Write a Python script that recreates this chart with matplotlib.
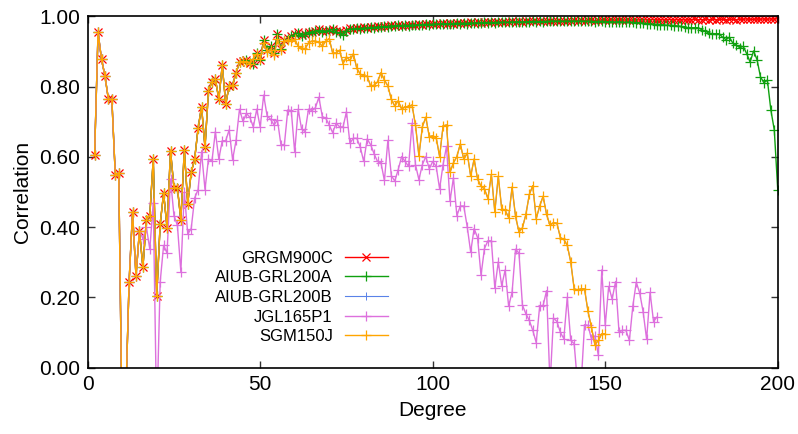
import matplotlib
matplotlib.use("Agg")
import matplotlib.pyplot as plt
import numpy as np

plt.rcParams['font.family'] = ['Liberation Sans', 'DejaVu Sans']

# ---------------- data (degree-wise correlation) ----------------
deg_grgm = list(range(2, 201))
grgm900c = [
    0.606, 0.955, 0.878, 0.831, 0.764, 0.764, 0.548, 0.555, -0.20, -0.10,
    0.244, 0.444, 0.260, 0.390, 0.285, 0.420, 0.433, 0.595, 0.203, 0.408,
    0.497, 0.398, 0.618, 0.512, 0.512, 0.420, 0.620, 0.467, 0.556, 0.594,
    0.682, 0.743, 0.627, 0.788, 0.814, 0.823, 0.764, 0.861, 0.751, 0.802,
    0.804, 0.840, 0.869, 0.872, 0.875, 0.868, 0.866, 0.896, 0.875, 0.934,
    0.904, 0.915, 0.896, 0.951, 0.906, 0.932, 0.938, 0.945, 0.950, 0.955,
    0.946, 0.951, 0.957, 0.955, 0.960, 0.963, 0.958, 0.960, 0.962, 0.965,
    0.958, 0.960, 0.955, 0.962, 0.967, 0.965, 0.968, 0.966, 0.970, 0.967,
    0.971, 0.969, 0.972, 0.970, 0.974, 0.972, 0.975, 0.973, 0.976, 0.974,
    0.977, 0.975, 0.977, 0.976, 0.978, 0.977, 0.979, 0.978, 0.979, 0.980,
    0.979, 0.981, 0.980, 0.981, 0.980, 0.982, 0.981, 0.982, 0.981, 0.983,
    0.982, 0.983, 0.982, 0.984, 0.983, 0.984, 0.983, 0.985, 0.984, 0.985,
    0.984, 0.986, 0.985, 0.986, 0.985, 0.986, 0.986, 0.987, 0.986, 0.987,
    0.986, 0.987, 0.987, 0.988, 0.987, 0.988, 0.987, 0.988, 0.988, 0.989,
    0.988, 0.989, 0.988, 0.989, 0.989, 0.988, 0.989, 0.990, 0.989, 0.989,
    0.990, 0.989, 0.990, 0.989, 0.990, 0.990, 0.989, 0.990, 0.990, 0.991,
    0.990, 0.990, 0.991, 0.990, 0.991, 0.990, 0.991, 0.991, 0.990, 0.991,
    0.991, 0.990, 0.991, 0.991, 0.992, 0.991, 0.991, 0.992, 0.991, 0.992,
    0.991, 0.992, 0.992, 0.991, 0.992, 0.992, 0.991, 0.992, 0.992, 0.993,
    0.992, 0.992, 0.993, 0.992, 0.993, 0.992, 0.993, 0.993, 0.993,
]

deg_aiub = list(range(2, 201))
aiub_grl200a = [
    0.606, 0.955, 0.878, 0.831, 0.764, 0.764, 0.548, 0.555, -0.20, -0.10,
    0.244, 0.444, 0.260, 0.390, 0.285, 0.420, 0.433, 0.595, 0.203, 0.408,
    0.497, 0.398, 0.618, 0.512, 0.512, 0.420, 0.620, 0.467, 0.556, 0.594,
    0.682, 0.743, 0.627, 0.788, 0.814, 0.823, 0.764, 0.861, 0.751, 0.802,
    0.804, 0.840, 0.869, 0.872, 0.875, 0.868, 0.866, 0.896, 0.875, 0.934,
    0.904, 0.915, 0.896, 0.951, 0.906, 0.930, 0.936, 0.944, 0.948, 0.953,
    0.945, 0.950, 0.955, 0.953, 0.958, 0.961, 0.956, 0.958, 0.960, 0.963,
    0.956, 0.952, 0.946, 0.960, 0.965, 0.963, 0.967, 0.964, 0.968, 0.966,
    0.970, 0.967, 0.971, 0.969, 0.972, 0.971, 0.974, 0.972, 0.975, 0.973,
    0.976, 0.974, 0.976, 0.975, 0.977, 0.976, 0.978, 0.977, 0.978, 0.979,
    0.978, 0.980, 0.979, 0.980, 0.979, 0.981, 0.980, 0.981, 0.980, 0.982,
    0.981, 0.982, 0.981, 0.983, 0.982, 0.983, 0.982, 0.984, 0.983, 0.984,
    0.983, 0.985, 0.984, 0.985, 0.984, 0.985, 0.985, 0.986, 0.985, 0.986,
    0.985, 0.986, 0.986, 0.987, 0.986, 0.987, 0.986, 0.987, 0.986, 0.987,
    0.986, 0.987, 0.986, 0.986, 0.986, 0.985, 0.986, 0.986, 0.985, 0.985,
    0.985, 0.984, 0.985, 0.984, 0.983, 0.984, 0.983, 0.982, 0.982, 0.981,
    0.980, 0.979, 0.978, 0.977, 0.977, 0.976, 0.975, 0.975, 0.974, 0.973,
    0.972, 0.970, 0.968, 0.968, 0.968, 0.968, 0.962, 0.958, 0.953, 0.951,
    0.951, 0.951, 0.941, 0.934, 0.941, 0.924, 0.918, 0.911, 0.915, 0.894,
    0.870, 0.902, 0.877, 0.828, 0.811, 0.819, 0.734, 0.677, 0.507,
]

deg_sgm = list(range(2, 151))
sgm150j = [
    0.606, 0.955, 0.878, 0.831, 0.764, 0.764, 0.548, 0.555, -0.20, -0.10,
    0.244, 0.444, 0.260, 0.390, 0.285, 0.420, 0.433, 0.595, 0.203, 0.408,
    0.497, 0.398, 0.618, 0.512, 0.512, 0.420, 0.620, 0.467, 0.556, 0.594,
    0.682, 0.743, 0.627, 0.788, 0.814, 0.823, 0.764, 0.861, 0.751, 0.802,
    0.804, 0.840, 0.869, 0.872, 0.870, 0.866, 0.880, 0.894, 0.880, 0.925,
    0.900, 0.905, 0.889, 0.935, 0.905, 0.930, 0.934, 0.930, 0.935, 0.915,
    0.910, 0.908, 0.925, 0.930, 0.930, 0.926, 0.915, 0.930, 0.937, 0.896,
    0.896, 0.904, 0.866, 0.885, 0.875, 0.894, 0.852, 0.836, 0.830, 0.830,
    0.802, 0.804, 0.814, 0.840, 0.819, 0.802, 0.764, 0.745, 0.760, 0.736,
    0.743, 0.743, 0.748, 0.691, 0.603, 0.686, 0.713, 0.658, 0.660, 0.655,
    0.601, 0.688, 0.691, 0.556, 0.583, 0.601, 0.637, 0.593, 0.611, 0.545,
    0.594, 0.537, 0.516, 0.509, 0.481, 0.550, 0.443, 0.545, 0.452, 0.448,
    0.427, 0.514, 0.431, 0.386, 0.398, 0.436, 0.493, 0.518, 0.424, 0.460,
    0.488, 0.436, 0.405, 0.413, 0.411, 0.370, 0.365, 0.348, 0.301, 0.224,
    0.221, 0.224, 0.224, 0.160, 0.115, 0.065, 0.077, 0.096, 0.096,
]

# AIUB-GRL200B lies underneath SGM150J in the reference (not visible)
deg_aiub_b = list(range(2, 151))
aiub_grl200b = list(sgm150j)

deg_jgl = list(range(2, 166))
jgl165p1 = [
    0.606, 0.955, 0.878, 0.831, 0.764, 0.764, 0.548, 0.555, -0.20, -0.10,
    0.244, 0.444, 0.260, 0.390, 0.367, 0.400, 0.337, 0.469, -0.15, 0.243,
    0.348, 0.326, 0.537, 0.433, 0.405, 0.273, 0.500, 0.380, 0.396, 0.483,
    0.507, 0.613, 0.507, 0.594, 0.587, 0.672, 0.594, 0.646, 0.646, 0.677,
    0.592, 0.647, 0.736, 0.701, 0.724, 0.713, 0.685, 0.736, 0.685, 0.776,
    0.717, 0.707, 0.691, 0.705, 0.635, 0.635, 0.734, 0.732, 0.613, 0.736,
    0.679, 0.672, 0.736, 0.732, 0.740, 0.770, 0.715, 0.710, 0.691, 0.669,
    0.696, 0.686, 0.685, 0.729, 0.639, 0.653, 0.653, 0.628, 0.587, 0.651,
    0.635, 0.609, 0.587, 0.583, 0.533, 0.647, 0.547, 0.531, 0.564, 0.601,
    0.587, 0.573, 0.696, 0.578, 0.535, 0.578, 0.601, 0.566, 0.587, 0.573,
    0.509, 0.578, 0.630, 0.474, 0.540, 0.433, 0.460, 0.460, 0.401, 0.329,
    0.396, 0.370, 0.263, 0.339, 0.361, 0.361, 0.226, 0.301, 0.233, 0.278,
    0.175, 0.214, 0.337, 0.326, 0.178, 0.153, 0.134, 0.106, 0.071, 0.175,
    0.177, 0.219, -0.05, 0.141, 0.131, 0.100, 0.082, 0.200, 0.077, 0.068,
    -0.05, -0.05, 0.122, 0.120, 0.082, 0.090, 0.035, 0.278, 0.120, 0.231,
    0.195, 0.245, 0.101, 0.106, 0.106, 0.077, 0.175, 0.243, 0.212, 0.158,
    0.080, 0.214, 0.131, 0.144,
]

labels = ["GRGM900C", "AIUB-GRL200A", "AIUB-GRL200B", "JGL165P1", "SGM150J"]
x_ticks = [0, 50, 100, 150, 200]
y_ticks = [0.0, 0.2, 0.4, 0.6, 0.8, 1.0]

# ---------------- figure ----------------
fig = plt.figure(figsize=(7.98, 4.34), dpi=100)
ax = fig.add_axes([0.1099, 0.1532, 0.8647, 0.8088])

lw = 1.0
ax.plot(deg_grgm, grgm900c, color="#ff0000", lw=lw, marker="x", ms=5.5, mew=0.9,
        label=labels[0])
ax.plot(deg_aiub, aiub_grl200a, color="#0fa00f", lw=lw, marker="+", ms=7, mew=0.9,
        label=labels[1])
ax.plot(deg_aiub_b, aiub_grl200b, color="#5a82e8", lw=0.8, marker="+", ms=6, mew=0.7,
        label=labels[2])
ax.plot(deg_jgl, jgl165p1, color="#dd70dd", lw=lw, marker="+", ms=7, mew=0.9,
        label=labels[3])
ax.plot(deg_sgm, sgm150j, color="#ffa500", lw=lw, marker="+", ms=7, mew=0.9,
        label=labels[4])

ax.set_xlim(0, 200)
ax.set_ylim(0, 1)
ax.set_xticks(x_ticks)
ax.set_xticklabels([str(v) for v in x_ticks])
ax.set_yticks(y_ticks)
ax.set_yticklabels([f"{v:.2f}" for v in y_ticks])
ax.tick_params(direction="in", length=5, width=1.0, top=True, right=True,
               labelsize=15, pad=5.5, color="#333333")
for s in ax.spines.values():
    s.set_linewidth(1.2)
    s.set_color("black")

ax.set_xlabel("Degree", fontsize=15, labelpad=5)
ax.set_ylabel("Correlation", fontsize=15, labelpad=5)

leg = ax.legend(loc="upper right", bbox_to_anchor=(0.435, 0.333), frameon=False,
                markerfirst=False, fontsize=12, handlelength=2.6, handletextpad=0.7,
                labelspacing=0.28, borderpad=0, borderaxespad=0)

fig.savefig("out.png", dpi=100)
